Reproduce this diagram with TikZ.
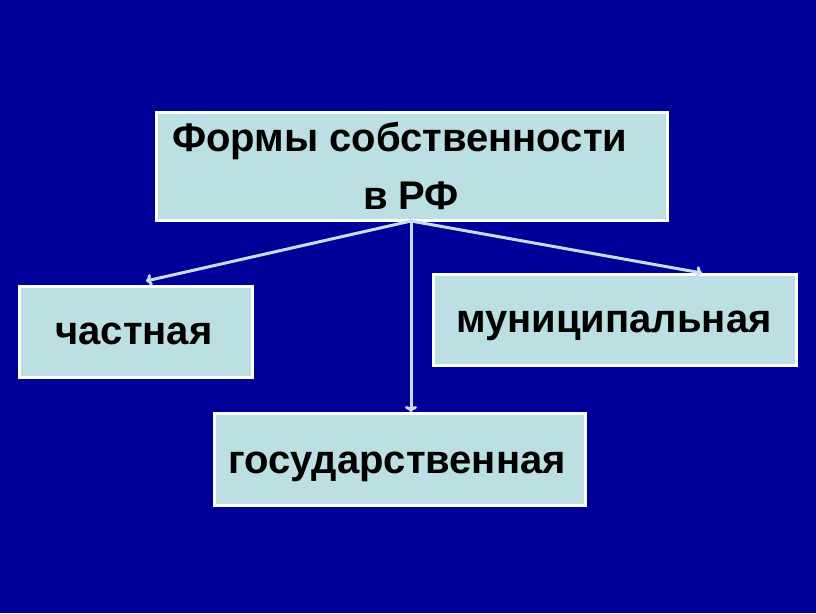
\documentclass[tikz,border=0pt]{standalone}
\usepackage{fontspec}
\setmainfont{Liberation Sans}
\usetikzlibrary{arrows.meta}
\definecolor{bgblue}{RGB}{0,0,153}
\definecolor{boxfill}{RGB}{187,223,227}
\definecolor{arrowcol}{RGB}{200,220,240}
\tikzset{
  box/.style={draw=white, line width=3pt, fill=boxfill, inner sep=0pt, anchor=north west},
  lbl/.style={font=\bfseries\fontsize{40}{48}\selectfont, text=black, inner sep=0pt, anchor=base},
  conn/.style={draw=arrowcol, line width=3pt, -{To[length=6pt,width=12pt]}}
}
\begin{document}
\begin{tikzpicture}[x=1pt,y=-1pt]
\fill[bgblue] (0,0) rectangle (816,613);
\useasboundingbox (0,0) rectangle (816,613);
\node[box, minimum width=511pt, minimum height=108pt] (top) at (155,111) {};
\node[lbl, anchor=base west] (t1) at (172,151) {Формы собственности};
\node[lbl] (t2) at (411,209) {в РФ};
\node[box, minimum width=233pt, minimum height=91pt] (priv) at (18,285) {};
\node[lbl] (l1) at (134,344) {частная};
\node[box, minimum width=363pt, minimum height=91pt] (mun) at (432,273) {};
\node[lbl] (l2) at (614,332) {муниципальная};
\node[box, minimum width=371pt, minimum height=92pt] (gos) at (213,412) {};
\node[lbl] (l3) at (397,473) {государственная};
\coordinate (src) at (411,221);
\coordinate (lt) at (146,281);
\coordinate (rt) at (702,273);
\draw[conn] (src) -- (lt);
\draw[conn] (src) -- (gos.north -| src);
\draw[conn] (src) -- (rt);
\end{tikzpicture}
\end{document}
